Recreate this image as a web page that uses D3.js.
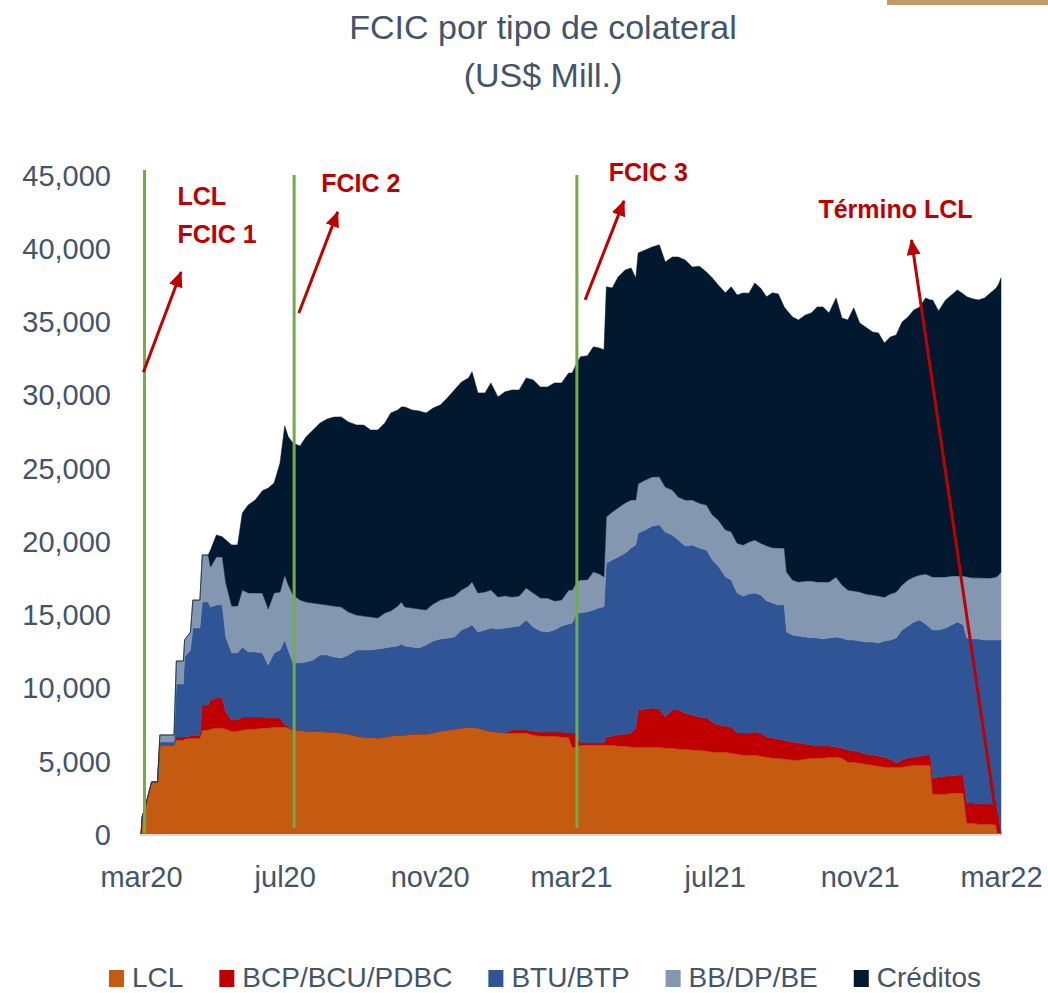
<!DOCTYPE html>
<html>
<meta charset="utf-8">
<script src="https://cdn.jsdelivr.net/npm/d3@7/dist/d3.min.js"></script>
<style>
body{
  margin: 0;
  background-color: white;
}
text{
  font-family: "Liberation Sans", Arial, sans-serif;
}
.axis text{
  fill: #44546A;
  font-size: 29px;
}
</style>
<body>
<div id="chartDiv"></div>

<script>
// ---- data (US$ Mill.) ----
var dates = ["2020-03-01","2020-03-02","2020-03-05","2020-03-10","2020-03-15","2020-03-17","2020-03-29","2020-03-31","2020-04-06","2020-04-07",
  "2020-04-12","2020-04-14","2020-04-20","2020-04-22","2020-04-27","2020-04-29","2020-05-04","2020-05-09","2020-05-12","2020-05-17",
  "2020-05-22","2020-05-26","2020-05-31","2020-06-06","2020-06-12","2020-06-17","2020-06-22","2020-06-27","2020-07-01","2020-07-04",
  "2020-07-08","2020-07-14","2020-07-19","2020-07-25","2020-07-31","2020-08-06","2020-08-12","2020-08-18","2020-08-24","2020-08-31",
  "2020-09-06","2020-09-12","2020-09-18","2020-09-24","2020-09-29","2020-10-05","2020-10-08","2020-10-11","2020-10-17","2020-10-23",
  "2020-10-29","2020-11-04","2020-11-10","2020-11-16","2020-11-22","2020-11-28","2020-12-04","2020-12-07","2020-12-12","2020-12-18",
  "2020-12-23","2020-12-29","2021-01-04","2021-01-10","2021-01-16","2021-01-22","2021-01-28","2021-02-03","2021-02-09","2021-02-15",
  "2021-02-21","2021-02-27","2021-03-02","2021-03-06","2021-03-09","2021-03-15","2021-03-20","2021-03-25","2021-03-29","2021-03-31",
  "2021-04-05","2021-04-10","2021-04-16","2021-04-21","2021-04-25","2021-04-27","2021-05-03","2021-05-09","2021-05-15","2021-05-20",
  "2021-05-26","2021-05-31","2021-06-06","2021-06-12","2021-06-18","2021-06-24","2021-06-29","2021-07-04","2021-07-10","2021-07-15",
  "2021-07-20","2021-07-25","2021-07-30","2021-08-04","2021-08-09","2021-08-14","2021-08-19","2021-08-24","2021-08-29","2021-08-31",
  "2021-09-05","2021-09-10","2021-09-16","2021-09-21","2021-09-26","2021-10-01","2021-10-06","2021-10-12","2021-10-17","2021-10-22",
  "2021-10-27","2021-11-01","2021-11-06","2021-11-12","2021-11-17","2021-11-22","2021-11-27","2021-12-02","2021-12-07","2021-12-12",
  "2021-12-17","2021-12-22","2021-12-27","2021-12-31","2022-01-02","2022-01-07","2022-01-13","2022-01-18","2022-01-23","2022-01-28",
  "2022-01-31","2022-02-05","2022-02-10","2022-02-15","2022-02-20","2022-02-25","2022-02-27","2022-03-01"];

var lcl = [0,1230,2050,3620,3620,6150,6150,6490,6490,6560,
  6620,6620,6620,7170,7170,7240,7310,7310,7240,7100,
  7100,7170,7240,7240,7310,7310,7380,7380,7380,7310,
  7170,7170,7100,7100,7100,7030,7030,6970,6900,6760,
  6690,6690,6620,6690,6760,6830,6830,6830,6900,6900,
  6900,6970,7100,7170,7240,7310,7380,7380,7310,7170,
  7100,7030,6970,6970,6970,6970,6830,6760,6760,6760,
  6690,6690,6010,6010,6150,6150,6150,6150,6150,6150,
  6150,6080,6080,6010,6010,6010,6010,6010,6010,5940,
  5940,5870,5870,5800,5800,5740,5670,5670,5670,5600,
  5530,5460,5460,5460,5390,5330,5260,5260,5190,5190,
  5120,5120,5190,5260,5260,5260,5330,5330,5260,4990,
  4990,4920,4850,4780,4710,4640,4640,4640,4640,4710,
  4780,4780,4780,4780,2800,2800,2800,2870,2870,2870,
  820,820,750,750,750,680,340,0];

var bcp = [0,0,0,0,0,0,0,200,200,140,
  140,200,200,1710,1710,1980,2050,2050,1160,750,
  750,890,820,820,750,680,610,610,140,140,
  0,0,0,0,0,0,0,0,0,0,
  0,0,0,0,0,0,0,0,0,0,
  0,0,0,0,0,0,0,0,0,0,
  0,0,0,200,200,200,270,270,270,270,
  340,270,960,960,140,140,140,140,140,550,
  610,750,820,960,1300,2530,2600,2660,2600,2120,
  2600,2660,2460,2390,2250,2250,2050,1840,1780,1780,
  1430,1500,1500,1570,1570,1370,1370,1300,1300,1230,
  1230,1160,1020,890,820,820,750,680,680,820,
  750,750,680,680,680,680,550,270,480,550,
  550,610,680,680,1090,1160,1230,1160,1230,1230,
  1370,1370,1370,1370,1370,1370,1020,140];

var btu = [0,0,0,0,0,200,200,3620,3620,5460,
  5870,7310,7310,7030,7030,6350,6350,6350,5120,4580,
  4580,4780,4440,4440,4370,3620,4440,4640,5800,5190,
  4580,4580,4710,4850,5190,5260,5120,5120,5390,5870,
  5940,5940,6080,6080,6080,6080,6210,6080,5940,5870,
  6080,6280,6280,6280,6280,6690,6830,6970,6560,6830,
  7030,7030,7170,7030,7100,7510,7100,6900,6830,6970,
  7240,7440,7510,8190,8880,8950,9080,9220,9290,11880,
  12020,12160,12360,12630,12500,12090,12220,12430,12570,12630,
  11950,11610,11400,11610,11540,11470,11060,10860,10180,10040,
  9560,9360,9490,9490,9420,9290,9220,9150,9220,7440,
  7310,7310,7310,7310,7380,7310,7380,7510,7510,7510,
  7580,7580,7650,7720,7720,7920,8130,8540,8880,9010,
  9220,9290,8950,8670,10110,10040,10110,10310,10450,10240,
  11270,11200,11270,11200,11200,11270,11950,13180];

var bb = [0,0,0,0,0,480,480,1570,1570,1160,
  1230,1910,1910,3210,3210,2730,3280,3280,3690,3210,
  3210,3890,4030,4030,4100,3820,4100,3960,4440,4440,
  4640,4300,4100,3890,3480,3410,3480,3480,2940,2390,
  2320,2250,2120,2390,2460,2730,2870,2660,2660,2660,
  2390,2530,2660,2730,2800,2730,2800,2940,2660,2600,
  2600,2190,2190,2050,2050,2190,2320,2250,2320,1980,
  1780,2320,2250,2120,2250,2190,2600,2320,2050,3140,
  3280,3350,3410,3280,3070,3350,3410,3350,3280,3070,
  3070,2940,3140,3070,3070,3070,3070,3140,3210,3280,
  3410,3480,3550,3620,3550,3760,3760,3890,3890,4100,
  3760,3690,3820,3890,3820,3890,3820,4100,3620,3410,
  3350,3350,3280,3210,3210,3000,3140,3140,3070,3140,
  3070,3070,3410,3550,3620,3620,3480,3350,3140,3350,
  4170,4170,4170,4230,4230,4300,4440,4640];

var creditos = [0,0,0,0,0,0,0,0,0,0,
  0,0,0,0,0,1160,1500,1370,2940,4170,
  4170,5260,6010,6350,6970,8260,7510,8810,10180,10110,
  10380,10520,11270,11810,12360,12700,12910,12980,12980,12980,
  13040,12770,12840,12980,13520,13380,13320,13660,13520,13520,
  13450,13380,13320,13660,14070,14200,14200,14340,13660,13590,
  14140,13660,13930,14140,14070,14340,14550,14410,14410,14890,
  14820,14820,14820,14960,15230,15300,15370,15430,15500,15710,
  15300,15770,15910,15840,15160,15770,15710,15710,15840,15370,
  15910,16390,16390,15910,16180,15910,16180,16050,16180,16730,
  16940,17210,17000,17550,17410,17000,17410,17350,16460,17890,
  17960,17890,18170,18300,18780,18780,18370,19050,18230,18440,
  19330,18370,18230,17960,17960,17350,17550,17550,17960,17960,
  18230,18300,18850,18850,18920,18170,18920,19190,19530,19260,
  19120,19050,18980,19120,19460,19740,19870,20080];

var seriesNames = ["LCL", "BCP/BCU/PDBC", "BTU/BTP", "BB/DP/BE", "Créditos"];
var seriesColors = ["#C55A11", "#C00000", "#2F5597", "#8497B0", "#02182F"];

var xTickDates = ["2020-03-01","2020-07-01","2020-11-01","2021-03-01","2021-07-01","2021-11-01","2022-03-01"];
var monthNames = ["ene","feb","mar","abr","may","jun","jul","ago","sep","oct","nov","dic"];
var yTicks = [0,5000,10000,15000,20000,25000,30000,35000,40000,45000];

// program milestones (green lines)
var milestoneDates = ["2020-03-04","2020-07-09","2021-03-06"];
var milestoneTop = [45410, 45070, 45070];
var milestoneBottom = [140, 480, 480];

// annotation arrows: from [date, value] to [date, value]
var arrowFrom = [["2020-03-03",31600],["2020-07-13",35650],["2021-03-13",36540],["2022-02-27",140]];
var arrowTo   = [["2020-04-04",38450],["2020-08-15",42550],["2021-04-15",43300],["2021-12-15",40630]];

var noteTexts = ["LCL","FCIC 1","FCIC 2","FCIC 3","Término LCL"];
var noteAnchors = [["2020-04-01",43020],["2020-04-01",40430],["2020-08-01",43910],["2021-04-02",44660],["2021-09-27",42130]];

// ---- chart ----
var width = 1048, height = 993;
var parseDate = d3.timeParse("%Y-%m-%d");
var textCol = "#44546A", noteCol = "#C00000", lineCol = "#70AD47";

var svg = d3.select("#chartDiv").append("svg")
  .attr("width", width).attr("height", height);

svg.append("rect").attr("width", width).attr("height", height).attr("fill", "white");

// gold strip top right
svg.append("rect").attr("x", 887).attr("y", 0).attr("width", 161).attr("height", 5).attr("fill", "#C09A68");

// title
svg.append("text").attr("x", 543).attr("y", 39).attr("text-anchor", "middle")
  .attr("font-size", 34).attr("fill", textCol).text("FCIC por tipo de colateral");
svg.append("text").attr("x", 543).attr("y", 87).attr("text-anchor", "middle")
  .attr("font-size", 34).attr("fill", textCol).text("(US$ Mill.)");

var x = d3.scaleTime()
  .domain([parseDate("2020-03-01"), parseDate("2022-03-01")])
  .range([141, 1001]);
var y = d3.scaleLinear().domain([0, 45000]).range([835, 176]);

var rows = dates.map(function(d, i){
  return {date: parseDate(d), s0: lcl[i], s1: bcp[i], s2: btu[i], s3: bb[i], s4: creditos[i]};
});

var keys = ["s0","s1","s2","s3","s4"];
var stacked = d3.stack().keys(keys)(rows);

var area = d3.area()
  .x(function(d){ return x(d.data.date); })
  .y0(function(d){ return y(d[0]); })
  .y1(function(d){ return y(d[1]); });

svg.append("g").selectAll("path")
  .data(stacked)
  .enter().append("path")
  .attr("d", area)
  .attr("fill", function(d, i){ return seriesColors[i]; })
  .attr("stroke", function(d, i){ return seriesColors[i]; })
  .attr("stroke-width", 0.5);

// x axis
var xAxis = d3.axisBottom(x)
  .tickValues(xTickDates.map(parseDate))
  .tickFormat(function(d){ return monthNames[d.getMonth()] + String(d.getFullYear()).slice(2); })
  .tickSize(0).tickSizeOuter(0).tickPadding(31);

var gx = svg.append("g").attr("class", "axis")
  .attr("transform", "translate(0," + y(0) + ")")
  .call(xAxis);
gx.select(".domain").attr("stroke", "#D9D9D9").attr("stroke-width", 2)
  .attr("d", "M" + (x.range()[0] - 1) + ",0H" + (x.range()[1] + 1));

// y axis
var yAxis = d3.axisLeft(y)
  .tickValues(yTicks)
  .tickFormat(d3.format(","))
  .tickSize(0).tickPadding(30);
var gy = svg.append("g").attr("class", "axis")
  .attr("transform", "translate(" + x.range()[0] + ",0)")
  .call(yAxis);
gy.select(".domain").remove();

// milestone lines
svg.append("g").selectAll("line")
  .data(milestoneDates)
  .enter().append("line")
  .attr("x1", function(d){ return x(parseDate(d)); })
  .attr("x2", function(d){ return x(parseDate(d)); })
  .attr("y1", function(d, i){ return y(milestoneTop[i]); })
  .attr("y2", function(d, i){ return y(milestoneBottom[i]); })
  .attr("stroke", lineCol)
  .attr("stroke-width", 3);

// arrows
svg.append("defs").append("marker")
  .attr("id", "arrowHead")
  .attr("markerUnits", "userSpaceOnUse")
  .attr("viewBox", "0 0 16 14")
  .attr("refX", 15).attr("refY", 7)
  .attr("markerWidth", 16).attr("markerHeight", 14)
  .attr("orient", "auto")
  .append("path").attr("d", "M0,0L16,7L0,14Z").attr("fill", noteCol);

svg.append("g").selectAll("line")
  .data(arrowFrom)
  .enter().append("line")
  .attr("x1", function(d){ return x(parseDate(d[0])); })
  .attr("y1", function(d){ return y(d[1]); })
  .attr("x2", function(d, i){ return x(parseDate(arrowTo[i][0])); })
  .attr("y2", function(d, i){ return y(arrowTo[i][1]); })
  .attr("stroke", noteCol)
  .attr("stroke-width", 3)
  .attr("marker-end", "url(#arrowHead)");

// notes
svg.append("g").selectAll("text")
  .data(noteTexts)
  .enter().append("text")
  .attr("x", function(d, i){ return x(parseDate(noteAnchors[i][0])); })
  .attr("y", function(d, i){ return y(noteAnchors[i][1]); })
  .attr("font-size", 25)
  .attr("font-weight", "bold")
  .attr("fill", noteCol)
  .text(function(d){ return d; });

// legend
var legend = svg.append("g");
var items = legend.selectAll("g").data(seriesNames).enter().append("g");
items.append("rect").attr("x", 0).attr("y", -17).attr("width", 15).attr("height", 17)
  .attr("fill", function(d, i){ return seriesColors[i]; });
items.append("text").attr("x", 23).attr("y", 0)
  .attr("font-size", 28).attr("fill", textCol)
  .text(function(d){ return d; });

var cursor = 0;
items.each(function(){
  var g = d3.select(this);
  g.attr("transform", "translate(" + cursor + ",0)");
  cursor += 23 + g.select("text").node().getComputedTextLength() + 36;
});
cursor -= 36;
legend.attr("transform", "translate(" + (545 - cursor / 2) + ",987)");
</script>
</body>
</html>
